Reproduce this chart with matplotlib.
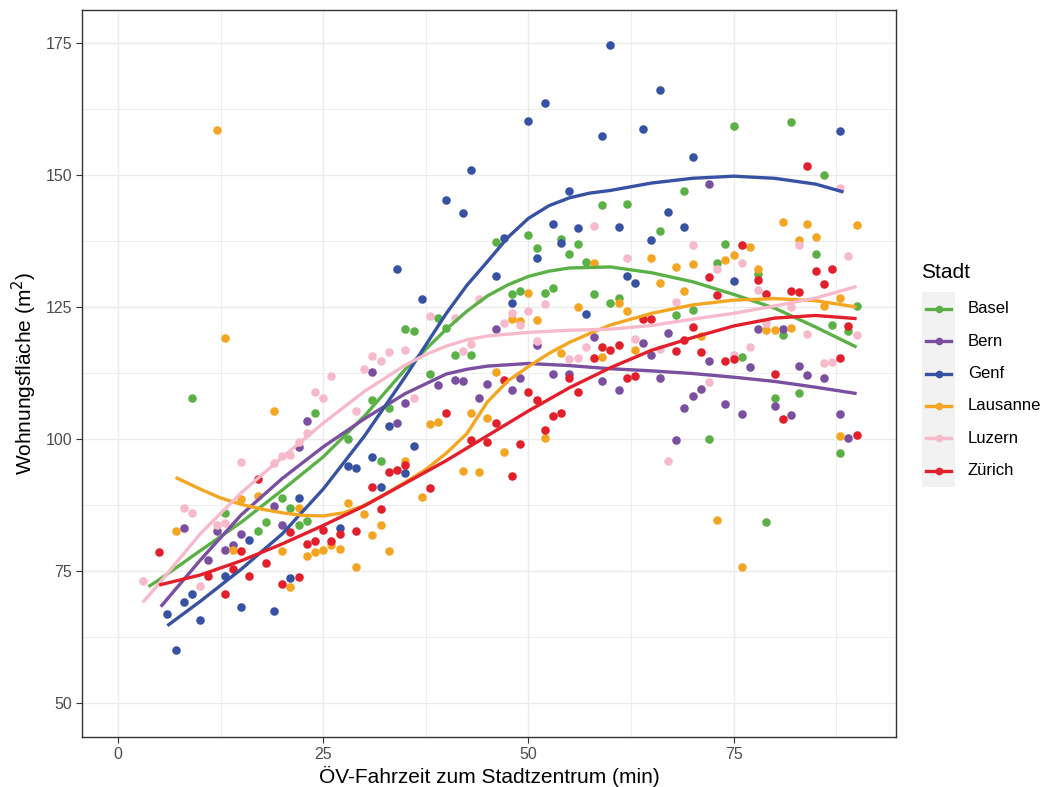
import matplotlib
matplotlib.use("Agg")
import matplotlib.pyplot as plt
from matplotlib.lines import Line2D
from matplotlib.patches import Rectangle
import numpy as np

plt.rcParams['font.family'] = ['Liberation Sans', 'DejaVu Sans']

cities = ["Basel", "Bern", "Genf", "Lausanne", "Luzern", "Zürich"]
colors = {"Basel": "#5BB146", "Bern": "#7A4F9F", "Genf": "#3752A2",
          "Lausanne": "#F4A623", "Luzern": "#F6BACB", "Zürich": "#E21F2B"}

# ---- scatter points (minutes, m2) ----
basel_x = [9, 24, 28, 20, 21, 13, 18, 23, 22, 17, 59, 50, 46, 51, 54, 56, 55, 57, 53, 52, 49, 48, 58, 60,
           39, 35, 36, 40, 41, 43, 38, 31, 33, 32, 75, 82, 86, 62, 69, 66, 74, 85, 73, 78, 61, 68, 70,
           81, 89, 87, 76, 80, 83, 72, 88, 79, 90]
basel_y = [107.7, 105, 100, 88.8, 86.9, 86, 84.2, 84.5, 83.7, 82.5, 144.3, 138.6, 137.4, 136.1, 137.8, 137,
           135, 133.6, 128.7, 127.7, 128, 127.4, 127.4, 125.7, 123, 120.8, 120.4, 121, 115.9, 115.9, 112.3,
           107.4, 105.8, 95.8, 159.3, 160, 150, 144.5, 146.9, 139.5, 136.9, 135, 133.3, 131.2, 126.8, 123.5,
           124.4, 119.7, 120.5, 121.6, 115.6, 107.7, 108.7, 99.9, 97.4, 84.2, 125.1]

bern_x = [23, 22, 19, 20, 8, 12, 15, 13, 14, 11, 31, 39, 41, 42, 45, 44, 48, 49, 46, 51, 58, 53, 55, 59,
          61, 35, 34, 72, 78, 81, 67, 64, 65, 72, 77, 83, 84, 86, 66, 71, 70, 69, 74, 76, 80, 82, 88, 68, 89]
bern_y = [103.4, 98.5, 87.2, 83.7, 83.1, 82.5, 82, 79, 79.9, 77.1, 112.7, 110.2, 111.2, 111, 110.5, 107.7,
          109.3, 111.5, 120.8, 117.8, 119.4, 112.3, 112.3, 111, 109.3, 106.8, 103, 148.4, 120.8, 120.8,
          120.1, 118.1, 116, 114.8, 113.7, 113.9, 112.1, 111.6, 111.5, 109.4, 108.2, 105.9, 106.7, 104.7,
          106.2, 104.5, 104.7, 99.8, 100.1]

genf_x = [28, 29, 22, 27, 16, 13, 9, 8, 6, 10, 15, 19, 21, 7, 60, 52, 50, 59, 43, 40, 42, 55, 53, 56, 61,
          47, 54, 51, 34, 46, 37, 48, 57, 33, 36, 31, 35, 32, 66, 64, 88, 70, 67, 69, 65, 62, 63, 75]
genf_y = [94.9, 94.5, 88.8, 83.2, 80.9, 74.1, 70.6, 69, 66.8, 65.6, 68.2, 67.3, 73.6, 60, 174.6, 163.6,
          160.3, 157.5, 150.9, 145.2, 142.9, 147, 140.8, 140, 140.1, 138.1, 137.1, 134.2, 132.3, 130.9,
          126.5, 125.8, 123.6, 102.5, 98.7, 96.6, 93.6, 90.9, 166.1, 158.8, 158.4, 153.4, 143, 140.2,
          137.7, 130.9, 129.5, 130]

lausanne_x = [12, 13, 19, 15, 17, 22, 7, 14, 20, 23, 24, 25, 27, 26, 29, 21, 50, 58, 61, 56, 48, 49, 51,
              54, 59, 46, 38, 39, 43, 45, 52, 47, 35, 42, 44, 37, 28, 30, 32, 31, 33, 81, 84, 90, 83, 85,
              77, 65, 74, 75, 68, 70, 78, 66, 69, 62, 86, 88, 79, 80, 82, 71, 63, 88, 73, 76]
lausanne_y = [158.5, 119.1, 105.3, 88.6, 89.2, 86.9, 82.6, 78.9, 78.7, 77.8, 78.5, 79, 79.1, 79.9, 75.8,
              71.9, 127.6, 133.4, 125.7, 125, 122.8, 122.3, 122.5, 116.2, 115.5, 112.6, 102.9, 103.3, 105,
              104, 100.2, 97.5, 95.9, 94, 93.8, 89, 87.8, 85.7, 83.7, 81.8, 78.8, 141.2, 140.8, 140.5,
              137.7, 138.2, 136.4, 134.2, 134, 134.8, 132.5, 133.1, 132.2, 129.5, 128.1, 124.2, 125.1,
              126.8, 120.6, 120.6, 121, 119.5, 116.8, 100.6, 84.6, 75.8]

luzern_x = [26, 24, 25, 29, 22, 21, 20, 19, 15, 8, 9, 12, 13, 3, 10, 58, 44, 52, 48, 50, 38, 41, 47, 49,
            51, 57, 55, 56, 42, 43, 31, 32, 33, 35, 30, 36, 23, 88, 70, 83, 89, 62, 73, 76, 78, 82, 68,
            79, 84, 90, 63, 66, 77, 75, 86, 87, 72, 67]
luzern_y = [112, 108.8, 107.8, 105.2, 99.5, 97, 96.7, 95.4, 95.6, 86.9, 86, 83.7, 84, 73, 72.2, 140.3,
            126.6, 125.5, 123.9, 124.3, 123.3, 122.9, 121.9, 121.6, 118.6, 117.5, 115.1, 115.3, 116.7, 118,
            115.7, 114.8, 116.5, 116.9, 113.2, 107.8, 101.2, 147.5, 136.7, 136.7, 134.7, 134.2, 132.3,
            133.4, 128.2, 125, 126, 122, 119.9, 119.7, 119, 117, 117.4, 116, 114.3, 114.5, 110.7, 95.8]

zuerich_x = [17, 21, 27, 29, 25, 23, 24, 26, 5, 15, 18, 14, 16, 11, 13, 20, 22, 59, 60, 58, 61, 47, 55,
             56, 50, 51, 40, 46, 53, 54, 52, 45, 43, 49, 33, 34, 35, 48, 31, 38, 32, 84, 76, 78, 85, 87,
             86, 72, 82, 83, 79, 73, 64, 65, 89, 70, 69, 68, 71, 74, 75, 88, 80, 62, 63, 81, 90]
zuerich_y = [92.4, 82.3, 82, 82.6, 82.8, 80.1, 80.6, 80.6, 78.5, 78.7, 76.5, 75.3, 74.1, 74.1, 70.6, 72.5,
             73.9, 117.4, 116.8, 115.3, 117.8, 111.2, 111.5, 108.8, 108.8, 107.4, 105, 103.1, 104.4, 104.9,
             101.7, 99.5, 99.8, 99, 93.8, 94.1, 95.1, 92.9, 90.9, 90.7, 86.7, 151.7, 136.8, 130.1, 131.8,
             132.2, 129.3, 130.6, 128.1, 127.9, 127.4, 127.2, 122.7, 122.8, 121.4, 121.3, 118.8, 116.7,
             116.4, 114.7, 115.1, 115.3, 112.4, 111.6, 112, 103.8, 100.8]

# ---- smoothed trend lines ----
basel_fx = [3.7, 5, 10, 15, 20, 25, 30, 35, 40, 42.5, 45, 47.5, 50, 52.5, 55, 60, 65, 70, 75, 80, 85, 90]
basel_fy = [72, 73.3, 78.8, 84.2, 90.3, 96.6, 104.3, 113.2, 120.8, 124.2, 127.1, 129.2, 130.8, 131.8,
            132.4, 132.6, 131.5, 129.8, 127.4, 124.8, 121.2, 117.4]
bern_fx = [5.2, 10, 15, 20, 25, 30, 35, 40, 42.5, 45, 50, 55, 60, 65, 70, 75, 80, 85, 90]
bern_fy = [68.2, 77, 85.6, 92.5, 98.5, 103.8, 108.6, 112.3, 113.2, 113.8, 114.3, 113.9, 113.3, 112.9,
           112.4, 111.7, 110.9, 109.8, 108.6]
genf_fx = [6, 10, 15, 20, 25, 30, 35, 40, 42.5, 45, 47.5, 50, 52.5, 55, 57.5, 60, 65, 70, 75, 80, 85, 88.4]
genf_fy = [64.6, 69.2, 75.3, 82, 90.5, 100.5, 111.8, 123.8, 129.1, 133.6, 138.2, 141.8, 144.2, 145.7,
           146.6, 147.1, 148.5, 149.4, 149.8, 149.4, 148.3, 146.8]
lausanne_fx = [7, 10, 12.5, 15, 17.5, 20, 22.5, 25, 27.5, 30, 32.5, 35, 37.5, 40, 42.5, 45, 47.5, 50,
               52.5, 55, 57.5, 60, 65, 70, 75, 80, 85, 90]
lausanne_fy = [92.7, 90.5, 88.8, 87.6, 86.7, 86, 85.5, 85.4, 86, 87.4, 89.5, 91.8, 94.2, 97.3, 101,
               107, 111, 113.7, 116.2, 118.3, 120, 121.6, 123.8, 125.4, 126.3, 126.6, 126.2, 125]
luzern_fx = [3, 5, 10, 15, 20, 25, 30, 35, 37.5, 40, 42.5, 45, 50, 55, 60, 65, 70, 75, 80, 85, 90]
luzern_fy = [69, 72.6, 82, 89.8, 96.5, 103, 109, 114, 116, 117.6, 118.8, 119.5, 120.2, 120.6, 120.8,
             121.5, 122.7, 123.8, 125.2, 126.7, 128.9]
zuerich_fx = [5, 10, 15, 20, 25, 30, 35, 40, 45, 50, 55, 60, 65, 70, 75, 80, 85, 90]
zuerich_fy = [72.3, 74.2, 76.9, 80.1, 83.6, 87.3, 91.6, 95.9, 100.6, 105.3, 109.7, 113.5, 116.8, 119.2,
              121.4, 122.9, 123.4, 122.8]

x_ticks = [0, 25, 50, 75]
y_ticks = [50, 75, 100, 125, 150, 175]

points = {"Basel": (basel_x, basel_y), "Bern": (bern_x, bern_y), "Genf": (genf_x, genf_y),
          "Lausanne": (lausanne_x, lausanne_y), "Luzern": (luzern_x, luzern_y),
          "Zürich": (zuerich_x, zuerich_y)}
fits = {"Basel": (basel_fx, basel_fy), "Bern": (bern_fx, bern_fy), "Genf": (genf_fx, genf_fy),
        "Lausanne": (lausanne_fx, lausanne_fy), "Luzern": (luzern_fx, luzern_fy),
        "Zürich": (zuerich_fx, zuerich_fy)}

W, H = 1041, 787
fig = plt.figure(figsize=(W / 100, H / 100), dpi=100)
L, R, T, B = 82, 896, 10, 737
ax = fig.add_axes([L / W, 1 - B / H, (R - L) / W, (B - T) / H])

ax.set_xlim(-4.4, 94.8)
ax.set_ylim(43.5, 181.3)

for c in cities:
    px, py = points[c]
    ax.scatter(px, py, s=38, color=colors[c], linewidths=0, zorder=3)
for c in cities:
    fx, fy = fits[c]
    ax.plot(fx, fy, color=colors[c], lw=2.4, zorder=4, solid_joinstyle='round', solid_capstyle='butt')

ax.set_xticks(x_ticks)
ax.set_yticks(y_ticks)
ax.set_xticks([12.5, 37.5, 62.5, 87.5], minor=True)
ax.set_yticks([62.5, 87.5, 112.5, 137.5, 162.5], minor=True)
ax.grid(True, which='major', color='#EBEBEB', lw=1.0, zorder=0)
ax.grid(True, which='minor', color='#EBEBEB', lw=0.6, zorder=0)
ax.set_axisbelow(True)
for s in ax.spines.values():
    s.set_color('#333333')
    s.set_linewidth(1.0)
ax.tick_params(which='major', length=4, color='#333333', labelsize=11.5, labelcolor='#4D4D4D', pad=3)
ax.tick_params(which='minor', length=0)

ax.set_xlabel("ÖV-Fahrzeit zum Stadtzentrum (min)", fontsize=15, color='black', labelpad=3)
ax.set_ylabel("Wohnungsfläche (m$^2$)", fontsize=15, color='black', labelpad=5)

# legend (ggplot style)
def fx_(p):
    return p / W

def fy_(p):
    return 1 - p / H

fig.text(fx_(921), fy_(273), "Stadt", fontsize=15, va='center', ha='left')
fig.add_artist(Rectangle((fx_(922), fy_(487)), (955 - 922) / W, (487 - 292) / H,
                         transform=fig.transFigure, facecolor='#F2F2F2', edgecolor='none'))
for i, c in enumerate(cities):
    yy = 309 + 32.3 * i
    fig.add_artist(Line2D([fx_(926), fx_(951)], [fy_(yy), fy_(yy)], transform=fig.transFigure,
                          color=colors[c], lw=2.4))
    fig.add_artist(Line2D([fx_(938.5)], [fy_(yy)], transform=fig.transFigure, marker='o',
                          markersize=5.5, color=colors[c], markeredgewidth=0))
    fig.text(fx_(968), fy_(yy), c, fontsize=12, va='center', ha='left')

fig.savefig("out.png", dpi=100)
